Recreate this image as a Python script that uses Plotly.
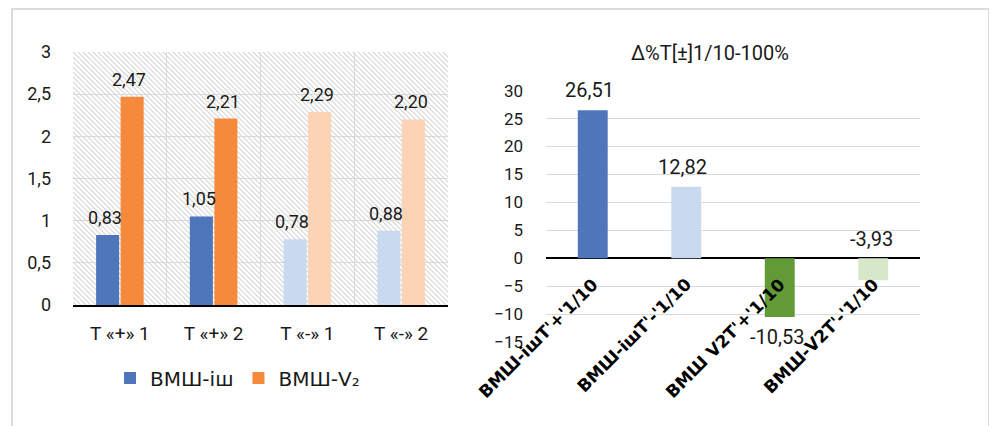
import base64
import plotly.graph_objects as go

# ---------------- data ----------------
categories_left = ["T «+» 1", "T «+» 2", "T «-» 1", "T «-» 2"]
series_ish = [0.83, 1.05, 0.78, 0.88]
series_v2 = [2.47, 2.21, 2.29, 2.20]
series_names = ["ВМШ-іш", "ВМШ-V₂"]

categories_right = ["ВМШ-ішТ'+'1/10", "ВМШ-ішТ'-'1/10", "ВМШ V2T'+'1/10", "ВМШ-V2T'-'1/10"]
delta_values = [26.51, 12.82, -10.53, -3.93]
right_title = "Δ%T[±]1/10-100%"

left_yticks = [0, 0.5, 1, 1.5, 2, 2.5, 3]
right_yticks = [-15, -10, -5, 0, 5, 10, 15, 20, 25, 30]

# ---------------- styles ----------------
W, H = 997, 426
OFF = 8  # page body margin
FONT = "Roboto"
FONT_CYR = "DejaVu Sans"
BLUE, BLUE_L = "#4F75BB", "#C9DAF0"
ORANGE, ORANGE_L = "#F68A3C", "#FCD3B5"
GREEN, GREEN_L = "#629B35", "#D6E8C9"
GRID = "#D9D9D9"

def px_x(p):
    return (p - OFF) / W

def px_y(p):
    return (H - (p - OFF)) / H

# left plot area (pixels in screenshot)
L_X0, L_X1, L_Y0, L_Y1 = 73, 448, 52, 305
# right plot area
R_X0, R_X1, R_Y0, R_Y1 = 546, 920, 90.7, 342

fig = go.Figure()

fig.add_trace(go.Bar(
    x=categories_left, y=series_ish, name=series_names[0],
    marker=dict(color=[BLUE, BLUE, BLUE_L, BLUE_L], line=dict(width=0)),
    xaxis="x", yaxis="y", showlegend=True,
))
fig.add_trace(go.Bar(
    x=categories_left, y=series_v2, name=series_names[1],
    marker=dict(color=[ORANGE, ORANGE, ORANGE_L, ORANGE_L], line=dict(width=0)),
    xaxis="x", yaxis="y", showlegend=True,
))
fig.add_trace(go.Bar(
    x=categories_right, y=delta_values, name="delta",
    marker=dict(color=[BLUE, BLUE_L, GREEN, GREEN_L], line=dict(width=0)),
    xaxis="x2", yaxis="y2", showlegend=False, width=0.32,
))

annotations = []
# left data labels
for s_idx, series in enumerate([series_ish, series_v2]):
    off = -0.13 if s_idx == 0 else 0.13
    for i, v in enumerate(series):
        annotations.append(dict(
            x=i + off - 0.03, y=v, xref="x", yref="y",
            text=f"{v:.2f}".replace(".", ","), showarrow=False,
            xanchor="center", yanchor="bottom", yshift=5,
            font=dict(family=FONT, size=18, color="#1a1a1a"),
        ))
# right data labels
for i, v in enumerate(delta_values):
    if v >= 0:
        annotations.append(dict(x=i - 0.04, y=v, xref="x2", yref="y2",
                                text=f"{v:.2f}".replace(".", ","), showarrow=False,
                                xanchor="center", yanchor="bottom", yshift=6,
                                font=dict(family=FONT, size=20, color="#1a1a1a")))
    elif i == 2:
        annotations.append(dict(x=i - 0.03, y=v, xref="x2", yref="y2",
                                text=f"{v:.2f}".replace(".", ","), showarrow=False,
                                xanchor="center", yanchor="top", yshift=-6,
                                font=dict(family=FONT, size=20, color="#1a1a1a")))
    else:
        annotations.append(dict(x=i - 0.02, y=0, xref="x2", yref="y2",
                                text=f"{v:.2f}".replace(".", ","), showarrow=False,
                                xanchor="center", yanchor="bottom", yshift=5,
                                font=dict(family=FONT, size=20, color="#1a1a1a")))
# right rotated category labels
for i, c in enumerate(categories_right):
    annotations.append(dict(x=i, y=0, xref="x2", yref="y2", text=f"<b>{c}</b>",
                            showarrow=False, textangle=-45,
                            xanchor="right", yanchor="top", xshift=12, yshift=-13,
                            font=dict(family=FONT_CYR, size=17, color="#000000")))
# right title
annotations.append(dict(x=px_x(710), y=px_y(53), xref="paper", yref="paper",
                        text=right_title, showarrow=False, xanchor="center", yanchor="middle",
                        font=dict(family=FONT, size=20, color="#1a1a1a")))

# hatch pattern image for left plot area
pw, ph = L_X1 - L_X0, L_Y1 - L_Y0
svg = (f'<svg xmlns="http://www.w3.org/2000/svg" width="{pw}" height="{ph}" '
       f'viewBox="0 0 {pw} {ph}" preserveAspectRatio="none">'
       '<defs><pattern id="p" patternUnits="userSpaceOnUse" width="5" height="5">'
       '<path d="M0,0 l5,5 M-1,4 l2,2 M4,-1 l2,2" stroke="#D6D6D6" stroke-width="1.2"/>'
       '</pattern></defs>'
       f'<rect width="{pw}" height="{ph}" fill="white"/>'
       f'<rect width="{pw}" height="{ph}" fill="url(#p)"/></svg>')
src = "data:image/svg+xml;base64," + base64.b64encode(svg.encode()).decode()

fig.update_layout(
    template="none",
    width=W, height=H, autosize=False,
    margin=dict(l=0, r=0, t=0, b=0, pad=0, autoexpand=False),
    paper_bgcolor="white", plot_bgcolor="rgba(0,0,0,0)",
    separators=", ",
    font=dict(family=FONT, color="#1a1a1a"),
    barmode="group", bargap=0.477, bargroupgap=0.06,
    images=[dict(source=src, xref="paper", yref="paper",
                 x=px_x(L_X0), y=px_y(L_Y0), sizex=pw / W, sizey=ph / H,
                 sizing="stretch", layer="below", xanchor="left", yanchor="top")],
    xaxis=dict(domain=[px_x(L_X0), px_x(L_X1)], anchor="y", automargin=False,
               type="category", tickson="boundaries", showgrid=True, gridcolor=GRID, gridwidth=1,
               ticks="", tickfont=dict(size=19, family=FONT), ticklabelstandoff=10,
               showline=True, linecolor="#000000", linewidth=1.5, fixedrange=True),
    yaxis=dict(domain=[px_y(L_Y1), px_y(L_Y0)], anchor="x", range=[0, 3], automargin=False,
               tickvals=left_yticks, showgrid=True, gridcolor=GRID, gridwidth=1.2,
               zeroline=False, showline=False, ticks="",
               tickfont=dict(size=18, family=FONT), ticklabelstandoff=21, fixedrange=True),
    xaxis2=dict(domain=[px_x(R_X0), px_x(R_X1)], anchor="y2", type="category", automargin=False,
                showticklabels=False, showgrid=False, ticks="", showline=False,
                range=[-0.5, 3.5], fixedrange=True),
    yaxis2=dict(domain=[px_y(R_Y1), px_y(R_Y0)], anchor="x2", range=[-15, 30], automargin=False,
                tickvals=right_yticks, showgrid=True, gridcolor=GRID, gridwidth=1.2,
                zeroline=True, zerolinecolor="#000000", zerolinewidth=1.5,
                ticks="", tickfont=dict(size=17, family=FONT), ticklabelstandoff=22,
                fixedrange=True),
    legend=dict(orientation="h", x=px_x(110), y=px_y(378), xanchor="left", yanchor="middle",
                font=dict(size=20, family=FONT_CYR, color="#1a1a1a"), itemwidth=30,
                bgcolor="rgba(0,0,0,0)", tracegroupgap=0),
    annotations=annotations,
    shapes=[dict(type="rect", xref="paper", yref="paper",
                 x0=px_x(12), x1=px_x(989), y0=-0.1, y1=px_y(9),
                 line=dict(color="#CFCFCF", width=1.5), fillcolor="rgba(0,0,0,0)",
                 layer="below")],
)

fig.write_html("out.html")
